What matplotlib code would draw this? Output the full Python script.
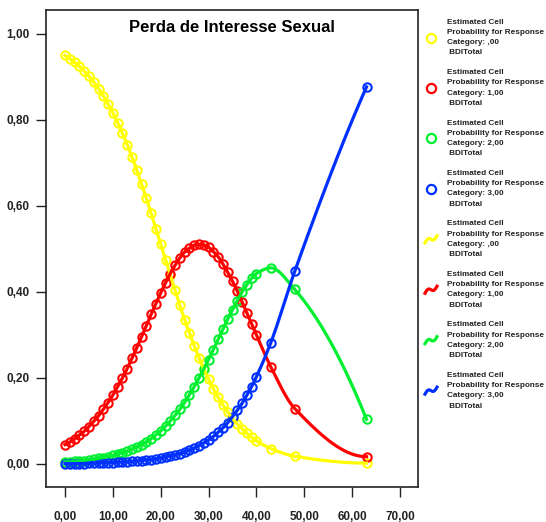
import numpy as np
import matplotlib
matplotlib.use("Agg")
import matplotlib.pyplot as plt
from matplotlib.ticker import FuncFormatter

# BDI total score and estimated probability of each response category
bdi_total = list(range(41)) + [43, 48, 63]

prob_cat0 = [0.950, 0.943, 0.934, 0.925, 0.914, 0.902, 0.888, 0.873, 0.856, 0.837,
             0.817, 0.794, 0.769, 0.743, 0.714, 0.683, 0.651, 0.618, 0.583, 0.547,
             0.511, 0.475, 0.439, 0.404, 0.369, 0.336, 0.305, 0.275, 0.247, 0.221,
             0.197, 0.175, 0.155, 0.137, 0.121, 0.106, 0.093, 0.082, 0.071, 0.062,
             0.054, 0.036, 0.018, 0.002]
prob_cat1 = [0.045, 0.051, 0.059, 0.067, 0.076, 0.087, 0.099, 0.112, 0.127, 0.143,
             0.160, 0.180, 0.200, 0.222, 0.246, 0.270, 0.296, 0.322, 0.348, 0.373,
             0.398, 0.421, 0.443, 0.462, 0.479, 0.493, 0.502, 0.509, 0.511, 0.509,
             0.504, 0.494, 0.482, 0.465, 0.446, 0.425, 0.402, 0.377, 0.352, 0.326,
             0.300, 0.226, 0.129, 0.017]
prob_cat2 = [0.005, 0.005, 0.006, 0.007, 0.008, 0.010, 0.011, 0.013, 0.015, 0.017,
             0.020, 0.023, 0.026, 0.030, 0.035, 0.040, 0.045, 0.052, 0.059, 0.068,
             0.077, 0.088, 0.100, 0.113, 0.127, 0.143, 0.161, 0.180, 0.200, 0.221,
             0.243, 0.266, 0.290, 0.313, 0.337, 0.359, 0.380, 0.400, 0.417, 0.432,
             0.443, 0.456, 0.406, 0.104]
prob_cat3 = [0.001, 0.001, 0.001, 0.001, 0.001, 0.002, 0.002, 0.002, 0.002, 0.003,
             0.003, 0.004, 0.004, 0.005, 0.006, 0.007, 0.008, 0.009, 0.010, 0.012,
             0.014, 0.016, 0.018, 0.021, 0.024, 0.028, 0.032, 0.037, 0.043, 0.049,
             0.056, 0.064, 0.074, 0.084, 0.096, 0.110, 0.125, 0.141, 0.160, 0.180,
             0.203, 0.282, 0.448, 0.877]

category_names = [",00", "1,00", "2,00", "3,00"]
colors = ["#FFFF00", "#FF0000", "#00F030", "#0030FF"]


def pchip(x, y, xs):
    """Monotone cubic interpolation used for the fit lines."""
    x = np.asarray(x, float)
    y = np.asarray(y, float)
    h = np.diff(x)
    d = np.diff(y) / h
    m = np.zeros_like(y)
    for k in range(1, len(x) - 1):
        if d[k - 1] * d[k] > 0:
            w1 = 2 * h[k] + h[k - 1]
            w2 = h[k] + 2 * h[k - 1]
            m[k] = (w1 + w2) / (w1 / d[k - 1] + w2 / d[k])

    def end_slope(h0, h1, d0, d1):
        s = ((2 * h0 + h1) * d0 - h0 * d1) / (h0 + h1)
        if np.sign(s) != np.sign(d0):
            s = 0.0
        elif np.sign(d0) != np.sign(d1) and abs(s) > 3 * abs(d0):
            s = 3 * d0
        return s

    m[0] = end_slope(h[0], h[1], d[0], d[1])
    m[-1] = end_slope(h[-1], h[-2], d[-1], d[-2])
    i = np.clip(np.searchsorted(x, xs, side="right") - 1, 0, len(x) - 2)
    t = (xs - x[i]) / h[i]
    h00 = 2 * t**3 - 3 * t**2 + 1
    h10 = t**3 - 2 * t**2 + t
    h01 = -2 * t**3 + 3 * t**2
    h11 = t**3 - t**2
    return h00 * y[i] + h10 * h[i] * m[i] + h01 * y[i + 1] + h11 * h[i] * m[i + 1]


series = [prob_cat0, prob_cat1, prob_cat2, prob_cat3]

fig = plt.figure(figsize=(5.46, 5.22), dpi=100)
ax = fig.add_axes([46 / 546, 1 - 487 / 522, 372 / 546, 477 / 522])

# markers first, fit lines on top
for probs, col in zip(series, colors):
    ax.plot(bdi_total, probs, linestyle="none", marker="o", markersize=6.0,
            markerfacecolor="none", markeredgecolor=col, markeredgewidth=1.5)
xs = np.linspace(min(bdi_total), max(bdi_total), 500)
for probs, col in zip(series, colors):
    ax.plot(xs, pchip(bdi_total, probs, xs), color=col, linewidth=2.3)

ax.set_xlim(-3.97, 73.76)
ax.set_ylim(-0.0535, 1.0558)
ax.set_xticks(np.arange(0, 71, 10))
ax.set_yticks(np.arange(0, 1.01, 0.2))
ax.xaxis.set_major_formatter(FuncFormatter(lambda v, p: f"{v:.2f}".replace(".", ",")))
ax.yaxis.set_major_formatter(FuncFormatter(lambda v, p: f"{v:.2f}".replace(".", ",")))
ax.tick_params(axis="x", direction="out", length=7, width=1, pad=10, color="#222222")
ax.tick_params(axis="y", direction="out", length=7, width=1, pad=5, color="#222222")
for lab in ax.get_xticklabels() + ax.get_yticklabels():
    lab.set_family("Liberation Sans")
    lab.set_fontweight("bold")
    lab.set_fontsize(8.5)
    lab.set_color("#222222")
for sp in ax.spines.values():
    sp.set_color("#222222")
    sp.set_linewidth(1.2)

ax.text(0.5, 0.964, "Perda de Interesse Sexual", transform=ax.transAxes,
        ha="center", va="center", fontsize=12, fontweight="bold",
        family="Liberation Sans")

# legend panel on the right, in pixel units
lg = fig.add_axes([420 / 546, 0, 126 / 546, 1])
lg.set_xlim(420, 546)
lg.set_ylim(522, 0)
lg.axis("off")
entry_y = 37.5 + 50.45 * np.arange(8)
squig_t = np.linspace(0, 1, 40)
for k in range(8):
    cat = k % 4
    yc = entry_y[k]
    col = colors[cat]
    if k < 4:
        lg.plot([431], [yc], marker="o", markersize=6.6, markerfacecolor="none",
                markeredgecolor=col, markeredgewidth=1.6, clip_on=False)
    else:
        sx = 425 + 12 * squig_t
        sy = yc + 3.5 - 7 * squig_t - 2.2 * np.sin(2 * np.pi * squig_t)
        lg.plot(sx, sy, color=col, linewidth=2.3, clip_on=False)
    label = ("Estimated Cell\nProbability for Response\n"
             f"Category: {category_names[cat]}\n BDITotal")
    lg.text(447, yc, label, ha="left", va="center", fontsize=5.9,
            fontweight="bold", family="Liberation Sans", color="#222222",
            linespacing=1.65)

fig.savefig("out.png", dpi=100)
